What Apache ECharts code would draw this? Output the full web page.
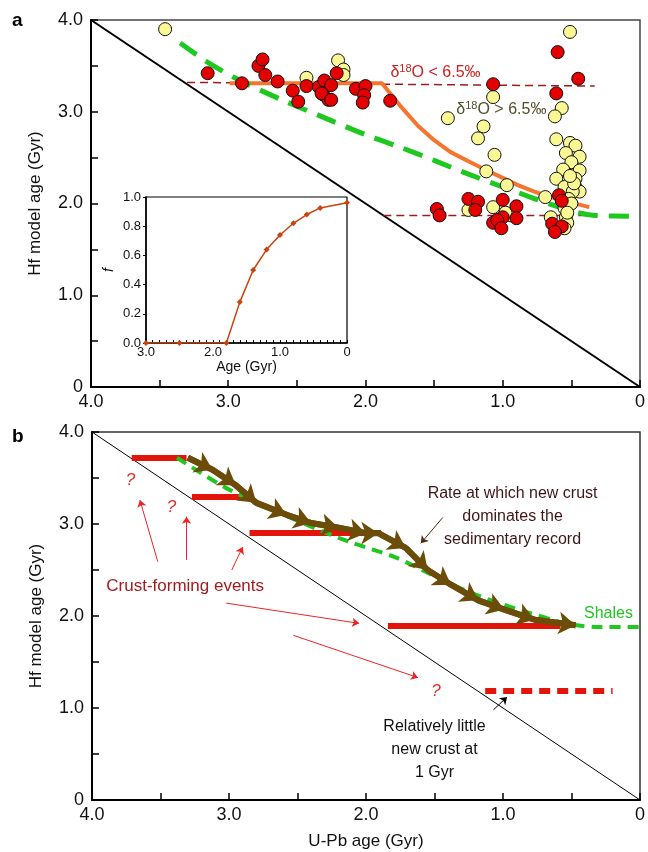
<!DOCTYPE html>
<html>
<head>
<meta charset="utf-8">
<script src="https://cdn.jsdelivr.net/npm/echarts@6/dist/echarts.min.js"></script>
<style>
  html, body { margin: 0; padding: 0; background: #fff; }
  #main { width: 648px; height: 852px; }
</style>
</head>
<body>
<div id="main"></div>
<script>
// panel a: zircon data, [U-Pb age, Hf model age] in Gyr
var redZircons = [
    [3.15, 3.42], [2.90, 3.31], [2.78, 3.50], [2.75, 3.57], [2.73, 3.40], [2.64, 3.33],
    [2.53, 3.23], [2.49, 3.11], [2.43, 3.28], [2.34, 3.27], [2.30, 3.34], [2.31, 3.19],
    [2.27, 3.13], [2.21, 3.42], [2.25, 3.29], [2.32, 3.20], [2.25, 3.13], [2.07, 3.25],
    [2.00, 3.28], [2.01, 3.18], [2.02, 3.10], [1.82, 3.12], [1.07, 3.30], [0.60, 3.65],
    [0.45, 3.36], [0.61, 3.20], [0.59, 2.09], [0.57, 2.03], [0.64, 1.78], [0.57, 1.75],
    [0.62, 1.69], [1.48, 1.94], [1.46, 1.87], [1.25, 2.05], [1.18, 2.02], [1.20, 1.93],
    [1.00, 2.04], [0.90, 1.97], [0.90, 1.84], [1.00, 1.85], [1.07, 1.79], [1.04, 1.82],
    [1.01, 1.73]
];
var yellowZircons = [
    [3.46, 3.90], [2.43, 3.37], [2.20, 3.56], [2.16, 3.46], [2.16, 3.40], [1.40, 2.93],
    [1.07, 3.16], [1.14, 2.84], [1.18, 2.71], [1.06, 2.53], [1.12, 2.35], [0.97, 2.20],
    [0.51, 3.87], [0.57, 3.04], [0.62, 2.95], [0.61, 2.70], [0.51, 2.66], [0.47, 2.63],
    [0.54, 2.55], [0.44, 2.51], [0.50, 2.45], [0.56, 2.37], [0.44, 2.36], [0.47, 2.27],
    [0.61, 2.27], [0.55, 2.18], [0.47, 2.18], [0.44, 2.13], [0.49, 2.13], [0.69, 2.07],
    [0.55, 1.95], [0.54, 1.85], [0.53, 1.79], [0.65, 1.85], [0.55, 1.73], [1.25, 1.93],
    [1.07, 1.96], [0.94, 1.87], [0.98, 1.90], [0.52, 2.05], [0.50, 2.00], [0.53, 1.90],
    [0.48, 2.22], [0.51, 2.30]
];
var shaleCurveA = [
    [3.35, 3.75], [3.14, 3.53], [2.90, 3.33], [2.61, 3.13], [2.34, 2.96], [2.00, 2.75],
    [1.76, 2.62], [1.50, 2.47], [1.25, 2.32], [1.00, 2.18], [0.89, 2.12], [0.65, 1.99],
    [0.45, 1.90], [0.33, 1.87], [0, 1.86]
];
var modelCurveA = [
    [2.99, 3.31], [1.88, 3.31], [1.75, 3.07], [1.62, 2.85], [1.50, 2.69], [1.38, 2.56],
    [1.25, 2.46], [1.13, 2.37], [1.00, 2.28], [0.89, 2.20], [0.77, 2.13], [0.65, 2.07],
    [0.50, 2.01], [0.37, 1.96]
];
var lowO18Line = [[3.30, 3.32], [0.33, 3.28]];
var highO18Line = [[1.87, 1.87], [0.36, 1.87]];
var oneToOne = [[4, 4], [0, 0]];

// inset: fraction f against age
var insetAge = [3.0, 2.5, 1.8, 1.6, 1.4, 1.2, 1.0, 0.8, 0.6, 0.4, 0];
var insetF = [0, 0, 0, 0.28, 0.50, 0.64, 0.74, 0.82, 0.88, 0.925, 0.96];

// panel b: crust-forming events [from age, to age, Hf age]
var crustEvents = [[3.71, 3.31, 3.72], [3.27, 2.87, 3.30], [2.85, 1.89, 2.90], [1.84, 0.58, 1.89]];
var littleCrust = [1.13, 0.20, 1.19];
var shaleCurveB = [
    [3.38, 3.72], [3.02, 3.39], [2.70, 3.17], [2.40, 2.97], [2.11, 2.80], [1.79, 2.64],
    [1.55, 2.47], [1.31, 2.30], [1.05, 2.15], [0.82, 2.04], [0.62, 1.95], [0.46, 1.90],
    [0.30, 1.88], [0, 1.88]
];
var ratePath = [
    [3.30, 3.72], [3.12, 3.59], [2.95, 3.42], [2.80, 3.23], [2.58, 3.10], [2.40, 3.01],
    [2.20, 2.96], [2.00, 2.90], [1.91, 2.90], [1.71, 2.74], [1.55, 2.50], [1.38, 2.34],
    [1.18, 2.17], [0.99, 2.07], [0.77, 1.96], [0.47, 1.90]
];
var eventArrows = [
    [[3.52, 2.59], [3.65, 3.26]],
    [[3.31, 2.61], [3.31, 3.08]],
    [[2.98, 2.50], [2.90, 2.75]],
    [[3.02, 2.14], [2.05, 1.92]],
    [[2.53, 1.79], [1.62, 1.33]]
];
var littleArrow = [[1.07, 0.98], [0.97, 1.12]];
var rateArrow = [[1.44, 3.07], [1.60, 2.79]];
var questionMarks = [[3.72, 3.48], [3.42, 3.18], [1.49, 1.18]];

var box = document.getElementById('main');
var myChart = echarts.init(box);

var font = 'Liberation Sans, Arial, Helvetica, sans-serif';

var tickFmt = function (v) {
    if (Math.abs(v - Math.round(v)) > 1e-6) return '';
    return v === 0 ? '0' : v.toFixed(1);
};

var mainX = function (idx, withName) {
    return {
        type: 'value', gridIndex: idx, min: 0, max: 4, interval: 0.5, inverse: true,
        name: withName ? 'U-Pb age (Gyr)' : '', nameLocation: 'middle', nameGap: 33,
        nameTextStyle: { fontFamily: font, fontSize: 17, color: '#111' },
        axisLine: { onZero: false, lineStyle: { color: '#000', width: 2 } },
        axisTick: { inside: true, length: 7, lineStyle: { color: '#000', width: 1.5 } },
        axisLabel: { formatter: tickFmt, fontFamily: font, fontSize: 18, color: '#111', margin: 6 },
        splitLine: { show: false }
    };
};
var mainY = function (idx) {
    return {
        type: 'value', gridIndex: idx, min: 0, max: 4, interval: 0.5,
        name: 'Hf model age (Gyr)', nameLocation: 'middle', nameGap: 47,
        nameTextStyle: { fontFamily: font, fontSize: 17, color: '#111' },
        axisLine: { onZero: false, lineStyle: { color: '#000', width: 2 } },
        axisTick: { inside: true, length: 7, lineStyle: { color: '#000', width: 1.5 } },
        axisLabel: { formatter: tickFmt, fontFamily: font, fontSize: 18, color: '#111', margin: 8 },
        splitLine: { show: false }
    };
};

var segs = function (list) {
    var out = [];
    for (var i = 0; i < list.length - 1; i++) {
        out.push({ coords: [list[i], list[i + 1]] });
    }
    return out;
};

var plainLabel = { show: true, position: 'inside', fontFamily: font, textBorderWidth: 0, textBorderColor: 'transparent', opacity: 1 };

var textPoint = function (idx, pos, text, style) {
    return {
        type: 'scatter', xAxisIndex: idx, yAxisIndex: idx, symbolSize: 0, z: 20,
        data: [pos], silent: true, itemStyle: { opacity: 1 },
        label: Object.assign({}, plainLabel, { formatter: text }, style)
    };
};

var options = {
    animation: false,
    grid: [
        { left: 91, top: 20, width: 552, height: 367, show: true, borderColor: '#444', borderWidth: 1.5 },
        { left: 146, top: 197, width: 201, height: 146, show: true, borderColor: '#000', borderWidth: 1.2, backgroundColor: '#fff', z: 10 },
        { left: 92, top: 432, width: 551, height: 368, show: true, borderColor: '#333', borderWidth: 1.5 }
    ],
    xAxis: [
        mainX(0, false),
        {
            type: 'value', gridIndex: 1, min: 0, max: 3, interval: 0.1, inverse: true, z: 11,
            name: 'Age (Gyr)', nameLocation: 'middle', nameGap: 16,
            nameTextStyle: { fontFamily: font, fontSize: 14, color: '#111' },
            axisLine: { onZero: false, lineStyle: { color: '#000', width: 1.5 } },
            axisTick: { inside: true, length: 3, lineStyle: { color: '#000' } },
            axisLabel: { formatter: tickFmt, fontFamily: font, fontSize: 13, color: '#111', margin: 3 },
            splitLine: { show: false }
        },
        mainX(2, true)
    ],
    yAxis: [
        mainY(0),
        {
            type: 'value', gridIndex: 1, min: 0, max: 1, interval: 0.2, z: 11,
            name: 'f', nameLocation: 'middle', nameGap: 30,
            nameTextStyle: { fontFamily: font, fontSize: 14, fontStyle: 'italic', color: '#111' },
            axisLine: { onZero: false, lineStyle: { color: '#000', width: 1.5 } },
            axisTick: { inside: false, length: 3, lineStyle: { color: '#000' } },
            axisLabel: { formatter: function (v) { return v.toFixed(1); }, fontFamily: font, fontSize: 13, color: '#111', margin: 5 },
            splitLine: { show: false }
        },
        mainY(2)
    ],
    graphic: [
        { type: 'text', left: 12, top: 11, style: { text: 'a', font: 'bold 19px ' + font, fill: '#000' } },
        { type: 'text', left: 12, top: 427, style: { text: 'b', font: 'bold 19px ' + font, fill: '#000' } }
    ],
    series: [
        // ---- panel a
        { type: 'line', xAxisIndex: 0, yAxisIndex: 0, data: oneToOne, symbol: 'none', lineStyle: { color: '#000', width: 2 }, z: 2 },
        { type: 'line', xAxisIndex: 0, yAxisIndex: 0, data: lowO18Line, symbol: 'none', lineStyle: { color: '#9b1c1c', width: 1.5, type: [8, 5] }, z: 3 },
        { type: 'line', xAxisIndex: 0, yAxisIndex: 0, data: highO18Line, symbol: 'none', lineStyle: { color: '#9b1c1c', width: 1.5, type: [8, 5] }, z: 3 },
        { type: 'line', xAxisIndex: 0, yAxisIndex: 0, data: modelCurveA, symbol: 'none', lineStyle: { color: '#f5742e', width: 4 }, z: 4 },
        { type: 'line', xAxisIndex: 0, yAxisIndex: 0, data: shaleCurveA, symbol: 'none', smooth: 0.3, lineStyle: { color: '#1ec81e', width: 5, type: [20, 11] }, z: 4 },
        {
            type: 'scatter', xAxisIndex: 0, yAxisIndex: 0, data: yellowZircons, symbolSize: 13, z: 5,
            itemStyle: { color: '#f9f894', borderColor: '#111', borderWidth: 1, opacity: 1 }
        },
        {
            type: 'scatter', xAxisIndex: 0, yAxisIndex: 0, data: redZircons, symbolSize: 13, z: 6,
            itemStyle: { color: '#e40000', borderColor: '#111', borderWidth: 1, opacity: 1 }
        },
        textPoint(0, [1.49, 3.43], '{a|δ}{s|18}{a|O < 6.5‰}', {
            rich: { a: { fontSize: 16, color: '#cc1f1f', fontFamily: font }, s: { fontSize: 11, color: '#cc1f1f', fontFamily: font, padding: [0, 0, 7, 0] } }
        }),
        textPoint(0, [1.01, 3.02], '{a|δ}{s|18}{a|O > 6.5‰}', {
            rich: { a: { fontSize: 16, color: '#4f4f2a', fontFamily: font }, s: { fontSize: 11, color: '#4f4f2a', fontFamily: font, padding: [0, 0, 7, 0] } }
        }),
        // ---- inset
        {
            type: 'line', xAxisIndex: 1, yAxisIndex: 1, z: 13,
            data: insetAge.map(function (a, i) { return [a, insetF[i]]; }),
            symbol: 'diamond', symbolSize: 6, showSymbol: true,
            lineStyle: { color: '#c8440e', width: 1.5 }, itemStyle: { color: '#c8440e' }
        },
        // ---- panel b
        { type: 'line', xAxisIndex: 2, yAxisIndex: 2, data: oneToOne, symbol: 'none', lineStyle: { color: '#000', width: 1 }, z: 2 },
        {
            type: 'lines', coordinateSystem: 'cartesian2d', xAxisIndex: 2, yAxisIndex: 2, z: 3,
            data: crustEvents.map(function (e) { return { coords: [[e[0], e[2]], [e[1], e[2]]] }; }),
            lineStyle: { color: '#e3150b', width: 6, opacity: 1 }
        },
        {
            type: 'lines', coordinateSystem: 'cartesian2d', xAxisIndex: 2, yAxisIndex: 2, z: 3,
            data: [{ coords: [[littleCrust[0], littleCrust[2]], [littleCrust[1], littleCrust[2]]] }],
            lineStyle: { color: '#e3150b', width: 6, opacity: 1, type: [11, 7] }
        },
        { type: 'line', xAxisIndex: 2, yAxisIndex: 2, data: shaleCurveB, symbol: 'none', smooth: 0.3, lineStyle: { color: '#1ec81e', width: 4, type: [11, 7] }, z: 4 },
        { type: 'line', xAxisIndex: 2, yAxisIndex: 2, data: ratePath, symbol: 'none', lineStyle: { color: '#6b4c08', width: 6 }, z: 5 },
        {
            type: 'lines', coordinateSystem: 'cartesian2d', xAxisIndex: 2, yAxisIndex: 2, z: 6,
            data: segs(ratePath), symbol: ['none', 'arrow'], symbolSize: 17,
            lineStyle: { color: '#6b4c08', width: 6, opacity: 1 }
        },
        {
            type: 'lines', coordinateSystem: 'cartesian2d', xAxisIndex: 2, yAxisIndex: 2, z: 6,
            data: eventArrows.map(function (a) { return { coords: a }; }), symbol: ['none', 'arrow'], symbolSize: 7,
            lineStyle: { color: '#ee2222', width: 1, opacity: 1 }
        },
        {
            type: 'lines', coordinateSystem: 'cartesian2d', xAxisIndex: 2, yAxisIndex: 2, z: 6,
            data: [{ coords: littleArrow }], symbol: ['none', 'arrow'], symbolSize: 7,
            lineStyle: { color: '#000', width: 1, opacity: 1 }
        },
        {
            type: 'lines', coordinateSystem: 'cartesian2d', xAxisIndex: 2, yAxisIndex: 2, z: 6,
            data: [{ coords: rateArrow }], symbol: ['none', 'arrow'], symbolSize: 7,
            lineStyle: { color: '#4a2a10', width: 1, opacity: 1 }
        },
        {
            type: 'scatter', xAxisIndex: 2, yAxisIndex: 2, symbolSize: 0, z: 20, data: questionMarks, silent: true,
            itemStyle: { opacity: 1 },
            label: Object.assign({}, plainLabel, { formatter: '?', fontSize: 17, fontStyle: 'italic', color: '#e82a2a' })
        },
        textPoint(2, [3.32, 2.32], 'Crust-forming events', { fontSize: 17, color: '#a31c22' }),
        textPoint(2, [0.93, 3.08], 'Rate at which new crust\ndominates the\nsedimentary record', { fontSize: 16, color: '#3e1616', lineHeight: 23, align: 'center' }),
        textPoint(2, [1.50, 0.55], 'Relatively little\nnew crust at\n1 Gyr', { fontSize: 16, color: '#111', lineHeight: 23, align: 'center' }),
        textPoint(2, [0.23, 2.03], 'Shales', { fontSize: 16, color: '#1ec81e' })
    ]
};

myChart.setOption(options);
</script>
</body>
</html>
